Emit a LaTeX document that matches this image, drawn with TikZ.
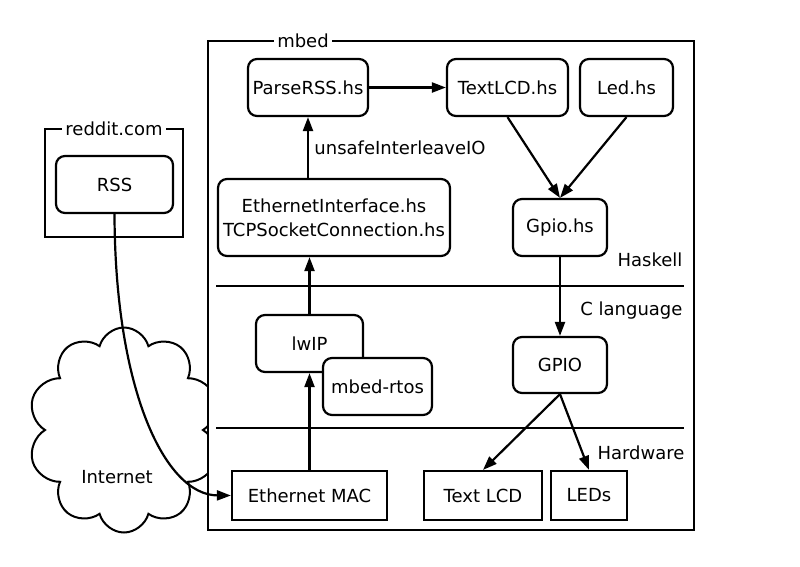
\documentclass[tikz,border=0pt]{standalone}
\usepackage{fontspec}
\setmainfont{DejaVu Sans}
\usetikzlibrary{arrows.meta,shapes.symbols,calc}
\begin{document}
\begin{tikzpicture}[x=1pt,y=-1pt,
  every node/.style={font=\fontsize{18}{24}\selectfont},
  line/.style={line width=2.2pt},
  arr/.style={line width=2.2pt,-{Triangle[length=14pt,width=10pt]}},
  rbox/.style={draw,line width=2.2pt,rounded corners=9pt,fill=white,inner sep=0pt,align=center},
  sbox/.style={draw,line width=2.2pt,fill=white,inner sep=0pt},
  lbl/.style={fill=white,inner xsep=3pt,inner ysep=1pt}]
\useasboundingbox (0,0) rectangle (800,566);
% cloud
\begin{scope}
\clip (0,300) rectangle (208,566);
\node[cloud,cloud puffs=10,draw,line width=2pt,minimum width=192pt,minimum height=205pt,aspect=1] (cloudshape) at (124,430) {};
\end{scope}
\node (inet) at (117,477) {Internet};
% frames
\draw[line] (208,41) rectangle (694,530);
\node[lbl] (mbedlbl) at (303,41) {mbed};
\draw[line] (45,129) rectangle (183,237);
\node[lbl] (redditlbl) at (114,129) {reddit.com};
% layer lines
\coordinate (l1a) at (216,286); \coordinate (l1b) at (684,286);
\coordinate (l2a) at (216,428); \coordinate (l2b) at (684,428);
\draw[line] (l1a) -- (l1b);
\draw[line] (l2a) -- (l2b);
\node[anchor=east] (hask) at (686,260) {Haskell};
\node[anchor=east] (clang) at (686,311) {C language};
\node[anchor=east] (hw) at (688,453) {Hardware};
% nodes
\node[rbox,minimum width=117pt,minimum height=57pt] (rss) at (114.5,184.5) {RSS};
\node[rbox,minimum width=120pt,minimum height=57pt] (parse) at (308,87.5) {ParseRSS.hs};
\node[rbox,minimum width=121pt,minimum height=57pt] (textlcd) at (507.5,87.5) {TextLCD.hs};
\node[rbox,minimum width=93pt,minimum height=57pt] (led) at (626.5,87.5) {Led.hs};
\node[rbox,minimum width=232pt,minimum height=77pt] (eth) at (334,217.5) {EthernetInterface.hs\\TCPSocketConnection.hs};
\node[rbox,minimum width=94pt,minimum height=57pt] (gpiohs) at (560,227.5) {Gpio.hs};
\node[rbox,minimum width=107pt,minimum height=57pt] (lwip) at (309.5,343.5) {lwIP};
\node[rbox,minimum width=109pt,minimum height=57pt] (rtos) at (377.5,386.5) {mbed-rtos};
\node[rbox,minimum width=94pt,minimum height=56pt] (gpio) at (560,365) {GPIO};
\node[sbox,minimum width=155pt,minimum height=49pt] (mac) at (309.5,495.5) {Ethernet MAC};
\node[sbox,minimum width=118pt,minimum height=49pt] (lcd) at (483,495.5) {Text LCD};
\node[sbox,minimum width=76pt,minimum height=49pt] (leds) at (589,495.5) {LEDs};
% connectors
\draw[arr] (parse.east) -- (textlcd.west);
\draw[arr] (parse.south |- eth.north) -- node[right,xshift=2pt] (unsafe) {unsafeInterleaveIO} (parse.south);
\draw[arr] (textlcd.south) -- (gpiohs.north);
\draw[arr] (led.south) -- (gpiohs.north);
\draw[arr] (gpiohs.south) -- (gpio.north);
\draw[arr] (lwip.north) -- (lwip.north |- eth.south);
\draw[arr] (mac.north) -- (lwip.south);
\draw[arr] (gpio.south) -- (lcd.north);
\draw[arr] (gpio.south) -- (leds.north);
\draw[arr] (rss.south) .. controls (115,390) and (165,495) .. (mac.west);
\end{tikzpicture}
\end{document}
